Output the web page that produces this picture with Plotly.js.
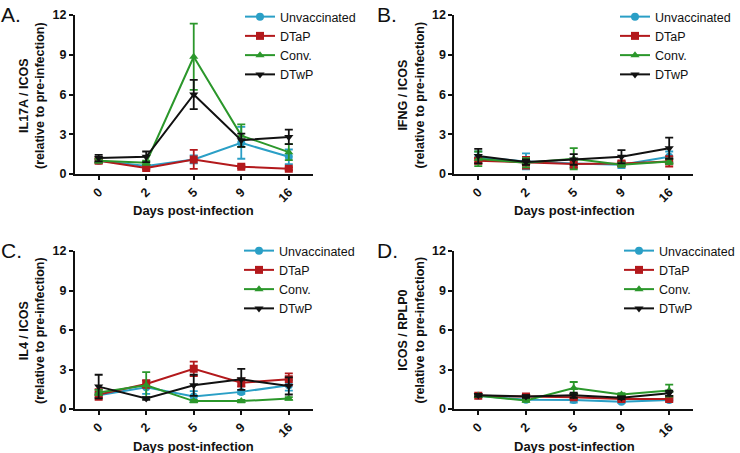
<!DOCTYPE html>
<html>
<head>
<meta charset="utf-8">
<script src="https://cdn.plot.ly/plotly-3.0.1.min.js"></script>
<style>
  body { margin: 0; background: #fff; }
  #chart { width: 740px; height: 453px; }
</style>
</head>
<body>
<div id="chart"></div>
<script>
// Days post-infection (categorical)
const days = ['0', '2', '5', '9', '16'];
const groups = ['Unvaccinated', 'DTaP', 'Conv.', 'DTwP'];

// Panel A: IL17A / ICOS
const il17Unvac = [1.0, 0.6, 1.1, 2.35, 1.3];
const il17UnvacErr = [0.15, 0.1, 0.3, 1.2, 0.55];
const il17Dtap = [1.0, 0.45, 1.1, 0.55, 0.4];
const il17DtapErr = [0.15, 0.1, 0.72, 0.1, 0.1];
const il17Conv = [1.0, 0.85, 8.85, 2.9, 1.65];
const il17ConvErr = [0.15, 0.15, 2.5, 0.85, 0.6];
const il17Dtwp = [1.2, 1.3, 6.0, 2.55, 2.8];
const il17DtwpErr = [0.25, 0.4, 1.1, 0.5, 0.55];

// Panel B: IFNG / ICOS
const ifngUnvac = [1.25, 0.95, 0.8, 0.7, 1.3];
const ifngUnvacErr = [0.45, 0.6, 0.3, 0.25, 0.4];
const ifngDtap = [1.0, 0.85, 0.75, 0.8, 0.95];
const ifngDtapErr = [0.2, 0.45, 0.3, 0.15, 0.4];
const ifngConv = [1.15, 0.85, 1.15, 0.7, 0.95];
const ifngConvErr = [0.55, 0.35, 0.8, 0.15, 0.2];
const ifngDtwp = [1.35, 0.9, 1.1, 1.3, 1.95];
const ifngDtwpErr = [0.55, 0.2, 0.4, 0.5, 0.8];

// Panel C: IL4 / ICOS
const il4Unvac = [1.05, 1.65, 0.95, 1.3, 1.8];
const il4UnvacErr = [0.2, 0.5, 0.4, 0.15, 0.4];
const il4Dtap = [1.1, 1.9, 3.05, 2.0, 2.25];
const il4DtapErr = [0.4, 0.3, 0.55, 0.3, 0.45];
const il4Conv = [1.25, 1.8, 0.6, 0.6, 0.8];
const il4ConvErr = [0.2, 1.0, 0.1, 0.1, 0.1];
const il4Dtwp = [1.7, 0.8, 1.8, 2.25, 1.75];
const il4DtwpErr = [0.9, 0.1, 0.8, 0.8, 0.65];

// Panel D: ICOS / RPLP0
const icosUnvac = [1.0, 0.7, 0.68, 0.55, 0.68];
const icosUnvacErr = [0.1, 0.1, 0.2, 0.1, 0.1];
const icosDtap = [1.0, 0.95, 0.9, 0.75, 0.75];
const icosDtapErr = [0.1, 0.1, 0.15, 0.1, 0.1];
const icosConv = [1.0, 0.65, 1.6, 1.1, 1.4];
const icosConvErr = [0.1, 0.1, 0.45, 0.1, 0.45];
const icosDtwp = [1.05, 0.95, 1.05, 0.85, 1.2];
const icosDtwpErr = [0.1, 0.1, 0.2, 0.1, 0.2];

const yTicks = [0, 3, 6, 9, 12];

const colors = ['#2a9fc6', '#b3191c', '#2b972b', '#111111'];
const symbols = ['circle', 'square', 'triangle-up', 'triangle-down'];
const FONT = 'Arial, "Liberation Sans", sans-serif';

const panels = [
  { ax: '', legend: 'legend', series: [[il17Unvac, il17UnvacErr], [il17Dtap, il17DtapErr], [il17Conv, il17ConvErr], [il17Dtwp, il17DtwpErr]] },
  { ax: '2', legend: 'legend2', series: [[ifngUnvac, ifngUnvacErr], [ifngDtap, ifngDtapErr], [ifngConv, ifngConvErr], [ifngDtwp, ifngDtwpErr]] },
  { ax: '3', legend: 'legend3', series: [[il4Unvac, il4UnvacErr], [il4Dtap, il4DtapErr], [il4Conv, il4ConvErr], [il4Dtwp, il4DtwpErr]] },
  { ax: '4', legend: 'legend4', series: [[icosUnvac, icosUnvacErr], [icosDtap, icosDtapErr], [icosConv, icosConvErr], [icosDtwp, icosDtwpErr]] }
];

const traces = [];
panels.forEach(p => {
  p.series.forEach((s, i) => {
    traces.push({
      x: days,
      y: s[0],
      xaxis: 'x' + p.ax,
      yaxis: 'y' + p.ax,
      legend: p.legend,
      name: groups[i],
      type: 'scatter',
      mode: 'lines+markers',
      line: { color: colors[i], width: 2 },
      marker: { color: colors[i], symbol: symbols[i], size: 8 },
      error_y: { type: 'data', array: s[1], visible: true, color: colors[i], thickness: 1.8, width: 4 }
    });
  });
});

function px2x(px) { return px / 740; }
function px2y(px) { return 1 - px / 453; }

function xAxis(left, right, anchor) {
  return {
    domain: [px2x(left), px2x(right)],
    anchor: anchor,
    type: 'category',
    range: [-0.5, 4.5],
    showline: true, linecolor: '#111', linewidth: 2,
    ticks: 'outside', ticklen: 4, tickwidth: 2, tickcolor: '#111',
    tickangle: -45,
    tickfont: { family: FONT, size: 12.5, color: '#111', weight: 'bold' },
    showgrid: false, zeroline: false, fixedrange: true
  };
}
function yAxis(top, bottom, anchor) {
  return {
    domain: [px2y(bottom), px2y(top)],
    anchor: anchor,
    range: [0, 12],
    tickvals: yTicks,
    showline: true, linecolor: '#111', linewidth: 2,
    ticks: 'outside', ticklen: 4, tickwidth: 2, tickcolor: '#111',
    tickfont: { family: FONT, size: 12.5, color: '#111', weight: 'bold' },
    showgrid: false, zeroline: false, fixedrange: true
  };
}

function legendAt(leftPx, topPx) {
  return {
    x: px2x(leftPx), y: px2y(topPx), xanchor: 'left', yanchor: 'top',
    font: { family: FONT, size: 12.5, color: '#111' },
    bgcolor: 'rgba(0,0,0,0)', tracegroupgap: 0
  };
}

const titleFont = { family: FONT, size: 12.5, color: '#111', weight: 'bold' };
const letterFont = { family: FONT, size: 21, color: '#111' };

function yTitle(xPx, yPx, gene) {
  return {
    xref: 'paper', yref: 'paper', x: px2x(xPx), y: px2y(yPx),
    xanchor: 'center', yanchor: 'middle', showarrow: false, textangle: -90,
    text: gene + '<br>(relative to pre-infection)', font: titleFont
  };
}
function xTitle(xPx, yPx) {
  return {
    xref: 'paper', yref: 'paper', x: px2x(xPx), y: px2y(yPx),
    xanchor: 'center', yanchor: 'middle', showarrow: false,
    text: 'Days post-infection', font: { family: FONT, size: 13, color: '#111', weight: 'bold' }
  };
}
function letter(xPx, yPx, t) {
  return {
    xref: 'paper', yref: 'paper', x: px2x(xPx), y: px2y(yPx),
    xanchor: 'left', yanchor: 'middle', showarrow: false,
    text: t, font: letterFont
  };
}

const layout = {
  width: 740, height: 453,
  margin: { l: 0, r: 0, t: 0, b: 0 },
  paper_bgcolor: '#fff', plot_bgcolor: '#fff',
  showlegend: true,
  xaxis: xAxis(75, 313, 'y'),
  yaxis: yAxis(15, 174, 'x'),
  xaxis2: xAxis(455, 694, 'y2'),
  yaxis2: yAxis(15, 174, 'x2'),
  xaxis3: xAxis(75, 313, 'y3'),
  yaxis3: yAxis(251, 409, 'x3'),
  xaxis4: xAxis(455, 694, 'y4'),
  yaxis4: yAxis(251, 409, 'x4'),
  legend: legendAt(240, 2),
  legend2: legendAt(615, 2),
  legend3: legendAt(239, 236),
  legend4: legendAt(620, 236),
  annotations: [
    letter(-1, 14, 'A.'),
    letter(376, 14, 'B.'),
    letter(-1, 250, 'C.'),
    letter(376, 250, 'D.'),
    yTitle(32, 95, 'IL17A / ICOS'),
    yTitle(412, 95, 'IFNG / ICOS'),
    yTitle(32, 330, 'IL4 / ICOS'),
    yTitle(412, 330, 'ICOS / RPLP0'),
    xTitle(194, 211),
    xTitle(575, 211),
    xTitle(194, 446),
    xTitle(575, 446),
    {
      xref: 'x', yref: 'paper', x: '5', y: px2y(6),
      xanchor: 'center', yanchor: 'middle', showarrow: false,
      text: '*', font: { family: FONT, size: 17, color: '#111', weight: 'bold' }
    }
  ]
};

Plotly.newPlot('chart', traces, layout, { displayModeBar: false, staticPlot: true });
</script>
</body>
</html>
